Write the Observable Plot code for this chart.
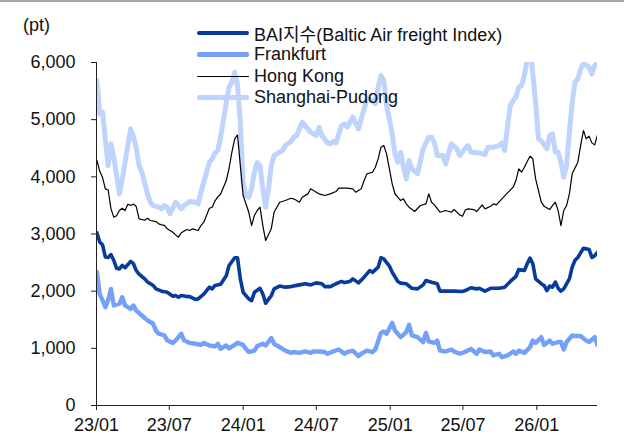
<!DOCTYPE html>
<html><head><meta charset="utf-8">
<script src="https://cdn.jsdelivr.net/npm/d3@7"></script>
<script src="https://cdn.jsdelivr.net/npm/@observablehq/plot@0.6"></script>
<style>
html,body{margin:0;padding:0;background:#fff;}
#wrap{position:relative;width:624px;height:447px;overflow:hidden;background:#fff;}
#topbar{position:absolute;left:0;top:0;width:624px;height:2px;background:#a6a6a6;}
#unit{position:absolute;left:23px;top:15px;font-size:18px;font-family:"Liberation Sans",Arial,sans-serif;color:#111;}
#legend{position:absolute;left:197px;top:22px;font-size:18px;font-family:"Liberation Sans",Arial,"Noto Sans CJK KR",sans-serif;color:#111;}
.row{display:flex;align-items:center;height:21.7px;white-space:nowrap;}
.sw{width:52px;margin-right:5px;border-radius:2px;}
</style></head>
<body><div id="wrap"><div id="topbar"></div><div id="chart"></div><div id="unit">(pt)</div><div id="legend"></div></div>
<script>
// week index (weeks after 2023-01-02) and index value (pt)
const seriesNames = ["BAI지수(Baltic Air freight Index)", "Frankfurt", "Hong Kong", "Shanghai-Pudong"];
const seriesColors = ["#073c9c", "#75a0f7", "#000000", "#bfd4fc"];
const seriesWidths = [3.6, 4.4, 1.2, 5];
const yTicks = [0, 1000, 2000, 3000, 4000, 5000, 6000];
const xTickLabels = ["2023-01-01", "2023-07-01", "2024-01-01", "2024-07-01", "2025-01-01", "2025-07-01", "2026-01-01"];

const bai = [[0,3020],[1,2860],[2,2810],[3,2600],[4,2590],[5,2640],[6,2540],[7,2400],[8,2390],[9,2450],[10,2410],[12,2520],[13,2480],[14,2360],[15,2300],[17,2215],[18,2160],[20,2100],[21,2040],[23,2000],[25,1980],[27,1910],[28,1925],[29,1895],[30,1925],[32,1905],[33,1905],[35,1855],[36,1865],[38,1950],[40,2070],[41,2040],[42,2100],[44,2120],[46,2270],[47,2450],[49,2585],[50,2585],[51,2215],[52,1980],[54,1865],[55,1835],[56,1980],[58,2050],[59,1950],[60,1790],[62,1920],[63,2040],[65,2090],[67,2070],[69,2080],[72,2110],[74,2130],[76,2110],[78,2145],[80,2130],[81,2080],[83,2080],[85,2130],[87,2170],[88,2150],[90,2170],[91,2215],[93,2145],[95,2245],[97,2360],[98,2330],[100,2420],[101,2585],[102,2565],[104,2440],[105,2330],[107,2170],[108,2140],[110,2130],[112,2050],[114,2040],[116,2110],[117,2185],[119,2155],[121,2130],[122,2000],[125,2000],[127,2000],[130,1995],[131,2010],[133,2060],[135,2040],[136,2050],[138,2000],[140,2050],[143,2050],[145,2070],[147,2170],[149,2260],[150,2380],[152,2360],[153,2480],[154,2580],[155,2480],[156,2215],[158,2130],[159,2100],[160,2010],[161,2090],[162,2070],[163,2160],[164,2050],[165,2000],[166,2040],[168,2215],[169,2420],[170,2540],[171,2590],[173,2750],[174,2740],[175,2730],[176,2590],[177,2620],[178,2680]];

const frankfurt = [[0,2330],[1,1950],[2,1840],[3,1720],[4,1840],[5,2040],[6,1750],[8,1780],[9,1895],[10,1750],[12,1690],[13,1750],[14,1660],[16,1575],[18,1490],[20,1430],[21,1310],[22,1255],[24,1225],[25,1140],[27,1095],[28,1140],[30,1255],[31,1140],[33,1095],[35,1080],[37,1060],[38,1095],[40,1050],[42,1035],[43,1080],[44,990],[46,1050],[47,1000],[49,1060],[50,1095],[52,1060],[53,990],[54,935],[56,960],[57,1040],[59,1080],[60,1050],[62,1180],[63,1080],[65,1020],[67,960],[69,920],[70,935],[72,920],[74,945],[76,920],[77,945],[79,945],[81,935],[82,905],[84,945],[86,980],[88,905],[89,935],[91,960],[93,865],[94,905],[96,960],[98,935],[99,980],[101,1270],[102,1295],[103,1255],[105,1445],[106,1310],[108,1195],[110,1285],[111,1410],[112,1225],[114,1195],[116,1110],[117,1270],[118,1120],[120,1095],[121,1135],[122,960],[124,945],[126,980],[127,945],[129,905],[131,940],[133,990],[135,905],[136,980],[138,935],[140,945],[141,875],[143,905],[144,845],[146,875],[148,945],[149,905],[150,960],[152,920],[154,1020],[155,1135],[156,1095],[158,1195],[159,1060],[161,1135],[162,1080],[164,1110],[165,1110],[166,980],[167,1110],[169,1225],[170,1215],[172,1215],[174,1135],[175,1110],[177,1195],[178,1060]];

const hongKong = [[0,4290],[1,4100],[2,3990],[3,3790],[4,3770],[5,3440],[6,3295],[7,3320],[8,3410],[9,3450],[10,3410],[11,3520],[12,3500],[13,3525],[14,3480],[15,3265],[17,3240],[18,3275],[19,3236],[21,3218],[22,3177],[23,3160],[24,3150],[25,3090],[27,3030],[28,2985],[29,2944],[30,3020],[32,3078],[33,3061],[34,3090],[36,3061],[37,3148],[38,3207],[40,3451],[41,3469],[42,3580],[43,3650],[44,3700],[46,3935],[47,4150],[48,4431],[49,4664],[50,4734],[51,4198],[52,3673],[54,3381],[55,3148],[56,3323],[57,3411],[58,3469],[59,3148],[60,2886],[62,3090],[63,3381],[65,3556],[67,3586],[69,3626],[70,3615],[72,3556],[73,3644],[75,3702],[76,3790],[78,3731],[79,3702],[81,3673],[83,3702],[85,3743],[86,3801],[89,3801],[91,3790],[92,3731],[94,3790],[95,3935],[96,4052],[98,4081],[99,4168],[100,4314],[101,4519],[102,4547],[103,4402],[104,4139],[105,3877],[106,3700],[107,3644],[108,3585],[109,3615],[110,3527],[111,3469],[113,3393],[115,3498],[117,3527],[118,3702],[119,3556],[120,3510],[122,3381],[124,3411],[126,3381],[127,3428],[129,3335],[130,3311],[131,3420],[132,3440],[134,3428],[135,3393],[137,3510],[138,3440],[140,3486],[141,3527],[142,3510],[144,3615],[146,3720],[148,3819],[149,3935],[150,4139],[151,4081],[152,4168],[153,4268],[154,4361],[155,4314],[156,3964],[158,3556],[159,3486],[161,3428],[162,3498],[163,3556],[164,3411],[165,3148],[166,3411],[167,3498],[168,3702],[169,4052],[171,4256],[172,4547],[173,4810],[174,4664],[175,4711],[176,4594],[177,4559],[178,4734]];

const shanghai = [[0,5680],[1,5100],[2,5130],[3,4650],[4,4198],[5,4577],[6,4350],[7,4023],[8,3702],[9,3950],[10,4250],[11,4550],[12,4839],[13,4700],[14,4500],[15,4198],[16,4081],[18,3700],[19,3556],[20,3498],[22,3469],[23,3440],[24,3498],[25,3469],[26,3352],[28,3556],[30,3440],[31,3498],[33,3568],[35,3556],[36,3527],[37,3731],[38,3906],[40,4256],[41,4314],[42,4420],[43,4460],[44,4700],[45,5000],[46,5300],[47,5570],[48,5650],[49,5830],[50,5600],[51,4956],[52,3900],[53,3673],[54,3644],[55,3790],[56,4081],[57,4250],[58,4200],[59,3790],[60,3469],[61,3790],[62,4198],[63,4373],[65,4431],[66,4460],[67,4547],[69,4617],[70,4693],[71,4722],[72,4839],[73,4956],[75,4839],[76,4781],[78,4722],[79,4868],[80,4722],[82,4594],[83,4577],[84,4617],[85,4594],[87,4897],[88,4926],[89,4868],[91,5043],[93,4839],[95,5189],[96,5364],[98,5335],[99,5276],[100,5568],[101,5772],[102,5685],[103,5247],[104,5014],[105,4750],[106,4400],[107,4256],[108,4431],[109,4168],[110,3964],[111,4285],[112,4139],[114,4052],[116,4489],[118,4693],[119,4693],[120,4600],[121,4373],[123,4373],[124,4227],[126,4577],[128,4489],[129,4373],[131,4500],[132,4547],[133,4431],[136,4419],[138,4390],[139,4518],[141,4518],[143,4547],[144,4594],[145,4460],[146,4897],[147,5250],[148,5335],[149,5393],[150,5568],[151,5597],[152,5772],[153,6050],[154,6300],[155,5800],[156,5305],[157,4664],[158,4635],[160,4489],[161,4722],[162,4752],[163,4431],[164,4431],[165,4256],[166,3994],[167,4198],[168,4781],[169,5300],[170,5655],[171,5713],[172,5888],[173,5990],[175,5917],[176,5800],[177,5947],[178,5995]];

const startWeek = new Date(Date.UTC(2023, 0, 2));
const toRows = (arr) => arr.map(([w, v]) => ({date: d3.utcDay.offset(startWeek, 7 * w), value: v}));
const allSeries = [bai, frankfurt, hongKong, shanghai].map(toRows);
const xStart = new Date(Date.UTC(2023, 0, 1));
const xEnd = new Date(Date.UTC(2026, 5, 1));
const xTicks = xTickLabels.map(s => new Date(s + "T00:00:00Z"));

const drawOrder = [3, 1, 0, 2];
const lineMarks = drawOrder.map(i => Plot.lineY(allSeries[i], {
  x: "date", y: "value", stroke: seriesColors[i], strokeWidth: seriesWidths[i],
  strokeLinejoin: "round", strokeLinecap: "round", clip: true
}));

const chart = Plot.plot({
  width: 624, height: 447,
  marginLeft: 96, marginRight: 27, marginTop: 62, marginBottom: 42,
  x: {type: "utc", domain: [xStart, xEnd]},
  y: {domain: [0, 6000]},
  style: {fontFamily: '"Liberation Sans Narrow", "Arial Narrow", "Liberation Sans", sans-serif', fontSize: "18px", color: "#111", background: "transparent"},
  marks: [
    ...lineMarks,
    Plot.axisY({ticks: yTicks, tickFormat: d3.format(","), tickSize: 5, tickPadding: 16, label: null, stroke: "#222"}),
    Plot.axisX({ticks: xTicks, tickFormat: d3.utcFormat("%y/%m"), tickSize: 5, tickPadding: 8, label: null, stroke: "#222"}),
    Plot.ruleX([xStart], {stroke: "#222"}),
    Plot.ruleY([0], {stroke: "#222"})
  ]
});
document.getElementById("chart").appendChild(chart);

const legend = document.getElementById("legend");
seriesNames.forEach((name, i) => {
  const row = document.createElement("div");
  row.className = "row";
  const sw = document.createElement("div");
  sw.className = "sw";
  sw.style.height = seriesWidths[i] + "px";
  sw.style.background = seriesColors[i];
  const t = document.createElement("span");
  t.textContent = name;
  row.appendChild(sw); row.appendChild(t);
  legend.appendChild(row);
});
</script></body></html>
